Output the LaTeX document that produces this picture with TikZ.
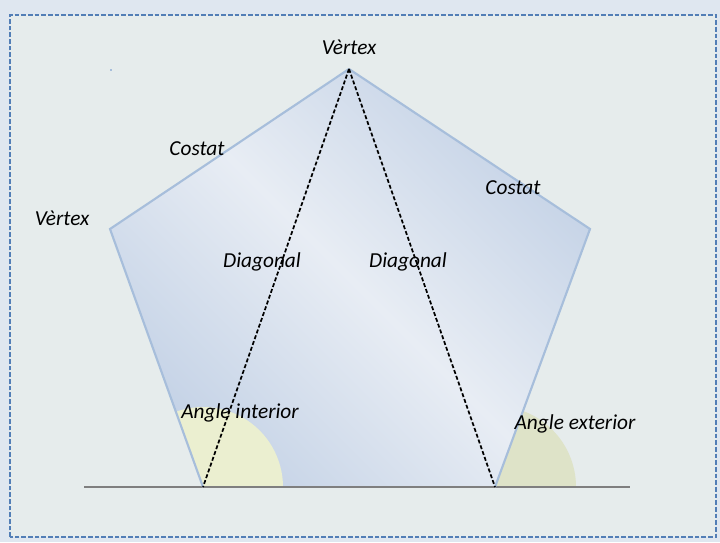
\documentclass[tikz,border=0pt]{standalone}
\usepackage{fontspec}
\setmainfont{Carlito}
\definecolor{pageBack}{HTML}{DFE7F0}
\definecolor{panelFill}{HTML}{E6ECEC}
\definecolor{frameLine}{HTML}{527EB6}
\definecolor{tileEdge}{HTML}{A7BEDB}
\definecolor{tileDark}{HTML}{C4D2E6}
\definecolor{tileLight}{HTML}{E8EDF4}
\definecolor{interiorAngle}{HTML}{EBEFD0}
\definecolor{exteriorAngle}{HTML}{DEE3C8}
\definecolor{groundLine}{HTML}{7F7F7F}

\begin{document}
\begin{tikzpicture}[
  x=0.75pt,
  y=0.75pt,
  every node/.style={
    font=\fontsize{16}{19}\selectfont\itshape,
    inner sep=0pt,
  },
  every panel/.style={
    fill=panelFill,
    draw=frameLine,
    line width=0.9pt,
    dash pattern=on 3.5pt off 1.5pt,
  },
  every side/.style={
    draw=tileEdge,
    line width=1.6pt,
    line join=miter,
  },
  every diagonal/.style={
    draw=black,
    line width=1.3pt,
    dash pattern=on 3pt off 1.6pt,
  },
]
\fill[pageBack] (0,0) rectangle (720,542);
\useasboundingbox (0,0) rectangle (720,542);
\path[every panel] (10,5) rectangle (716,527);
\fill[tileEdge] (110,471) rectangle (112,473);

% corners of the pentagon
\coordinate (top) at (349,473);
\coordinate (left) at (110,313);
\coordinate (right) at (590,313);
\coordinate (bl) at (203,55);
\coordinate (br) at (495,55);

\shade[top color=tileDark,bottom color=tileDark,middle color=tileLight,shading angle=-45]
  (top) -- (right) -- (br) -- (bl) -- (left) -- cycle;

% angle sectors at the base
\fill[interiorAngle] (bl) -- ++(80,0) arc[start angle=0,end angle=109.8,radius=80] -- cycle;
\fill[exteriorAngle] (br) -- ++(81,0) arc[start angle=0,end angle=70,radius=81] -- cycle;

\draw[groundLine,line width=1.6pt] (84,55) -- (630,55);
\path[every side] (top) -- (right) -- (br) (bl) -- (left) -- (top);
\foreach \c in {bl,br}
  \path[every diagonal] (top) -- (\c);

\node (vTop) at (349,495) {Vèrtex};
\node (vLeft) at (62,324) {Vèrtex};
\node (sLeft) at (197,393) {Costat};
\node (sRight) at (513,354) {Costat};
\node (dLeft) at (262,280) {Diagonal};
\node (dRight) at (408,280) {Diagonal};
\node (aInt) at (240,129) {Angle interior};
\node (aExt) at (575,118) {Angle exterior};
\end{tikzpicture}
\end{document}
